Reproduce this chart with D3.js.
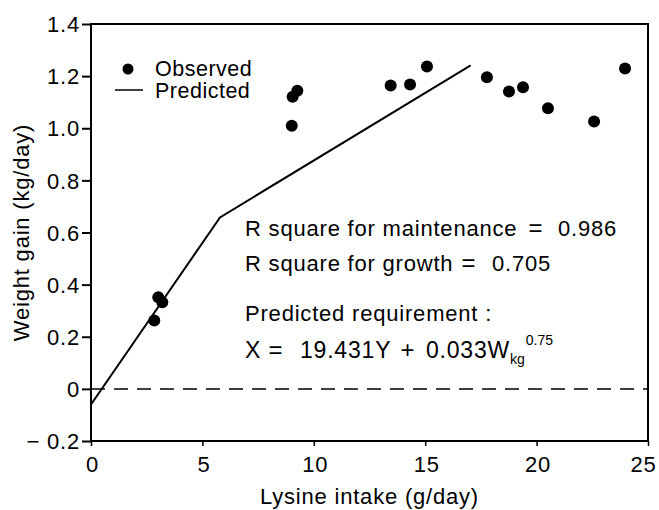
<!DOCTYPE html>
<html>
<head>
<meta charset="UTF-8">
<script src="https://cdnjs.cloudflare.com/ajax/libs/d3/7.8.5/d3.min.js"></script>
<style>
  body { margin: 0; background: #fff; }
  text { font-family: "Liberation Sans", Arial, sans-serif; fill: #000; letter-spacing: 0.8px; }
</style>
</head>
<body>
<svg id="chart"></svg>
<script>
// ---- data ----
var observedX = [2.84, 3.02, 3.20, 9.01, 9.05, 9.26, 13.45, 14.32, 15.08, 17.77, 18.76, 19.39, 20.51, 22.58, 23.97];
var observedY = [0.262, 0.352, 0.332, 1.010, 1.121, 1.144, 1.164, 1.168, 1.237, 1.196, 1.141, 1.157, 1.077, 1.026, 1.229];

var predictedX = [0, 5.79, 17.04];
var predictedY = [-0.06, 0.658, 1.241];

var xTicks = [0, 5, 10, 15, 20, 25];
var yTicks = [-0.2, 0, 0.2, 0.4, 0.6, 0.8, 1.0, 1.2, 1.4];
var yTickLabels = ["\u2212 0.2", "0", "0.2", "0.4", "0.6", "0.8", "1.0", "1.2", "1.4"];

var legendLabels = ["Observed", "Predicted"];

// ---- layout ----
var width = 659, height = 510;
var margin = {top: 24, right: 11, bottom: 69, left: 91};

var svg = d3.select("#chart").attr("width", width).attr("height", height);

var x = d3.scaleLinear().domain([0, 25]).range([margin.left, width - margin.right]);
var y = d3.scaleLinear().domain([-0.2, 1.4]).range([height - margin.bottom, margin.top]);

// frame
svg.append("rect")
    .attr("x", x(0)).attr("y", y(1.4))
    .attr("width", x(25) - x(0)).attr("height", y(-0.2) - y(1.4))
    .attr("fill", "none").attr("stroke", "#000").attr("stroke-width", 2);

// y axis
var yAxis = d3.axisLeft(y).tickValues(yTicks).tickSize(9).tickPadding(2)
    .tickFormat(function (d, i) { return yTickLabels[i]; });
var gy = svg.append("g").attr("transform", "translate(" + x(0) + ",0)").call(yAxis);
gy.select(".domain").remove();
gy.selectAll("line").attr("stroke-width", 2);
gy.selectAll("text").style("font-size", "22px").attr("dy", "0.35em");

// x axis
var xAxis = d3.axisBottom(x).tickValues(xTicks).tickSize(5).tickPadding(10);
var gx = svg.append("g").attr("transform", "translate(0," + y(-0.2) + ")").call(xAxis);
gx.select(".domain").remove();
gx.selectAll("line").attr("stroke-width", 1.5);
gx.selectAll("text").style("font-size", "22px")
    .attr("dx", function (d) { return d === 25 ? -5 : 1; });

// axis titles
svg.append("text")
    .attr("x", (x(0) + x(25)) / 2).attr("y", 504)
    .attr("text-anchor", "middle").style("font-size", "22px")
    .text("Lysine intake (g/day)");

svg.append("text")
    .attr("transform", "translate(29," + ((y(-0.2) + y(1.4)) / 2) + ") rotate(-90)")
    .attr("text-anchor", "middle").style("font-size", "22px")
    .text("Weight gain (kg/day)");

// zero reference line
svg.append("line")
    .attr("x1", x(0)).attr("x2", x(25))
    .attr("y1", y(0)).attr("y2", y(0))
    .attr("stroke", "#000").attr("stroke-width", 1.5)
    .attr("stroke-dasharray", "14,9");

// predicted line
var line = d3.line()
    .x(function (d, i) { return x(predictedX[i]); })
    .y(function (d, i) { return y(predictedY[i]); });
svg.append("path")
    .datum(predictedX)
    .attr("d", line)
    .attr("fill", "none").attr("stroke", "#000").attr("stroke-width", 2);

// observed points
svg.append("g").selectAll("circle")
    .data(observedX)
    .enter().append("circle")
    .attr("cx", function (d) { return x(d); })
    .attr("cy", function (d, i) { return y(observedY[i]); })
    .attr("r", 6)
    .attr("fill", "#000");

// legend
var legend = svg.append("g");
legend.append("circle").attr("cx", 128).attr("cy", 69).attr("r", 5.5).attr("fill", "#000");
legend.append("line").attr("x1", 115).attr("x2", 143).attr("y1", 90).attr("y2", 90)
    .attr("stroke", "#000").attr("stroke-width", 1.5);
legend.selectAll("text")
    .data(legendLabels)
    .enter().append("text")
    .attr("x", 155)
    .attr("y", function (d, i) { return 76 + i * 22; })
    .style("font-size", "21.5px")
    .style("letter-spacing", "0.5px")
    .text(function (d) { return d; });

// annotations: [text, x, baseline y, anchor, font size]
var pieces = [
    ["R square for maintenance", 245, 236, "start", 22],
    ["=", 536, 236, "middle", 24],
    ["0.986", 558, 236, "start", 22],
    ["R square for growth", 245, 271, "start", 22],
    ["=", 469, 271, "middle", 24],
    ["0.705", 492, 271, "start", 22],
    ["Predicted requirement :", 245, 321, "start", 22],
    ["X", 245, 358, "start", 23],
    ["=", 276, 358, "middle", 24],
    ["19.431Y", 300, 358, "start", 23],
    ["+", 408, 358, "middle", 24],
    ["0.033W", 510, 358, "end", 23],
    ["kg", 510, 364, "start", 14],
    ["0.75", 553, 345, "end", 14]
];
svg.append("g").selectAll("text")
    .data(pieces)
    .enter().append("text")
    .attr("x", function (d) { return d[1]; })
    .attr("y", function (d) { return d[2]; })
    .attr("text-anchor", function (d) { return d[3]; })
    .style("font-size", function (d) { return d[4] + "px"; })
    .style("letter-spacing", function (d) { return d[4] < 20 ? "0px" : "0.8px"; })
    .text(function (d) { return d[0]; });
</script>
</body>
</html>
